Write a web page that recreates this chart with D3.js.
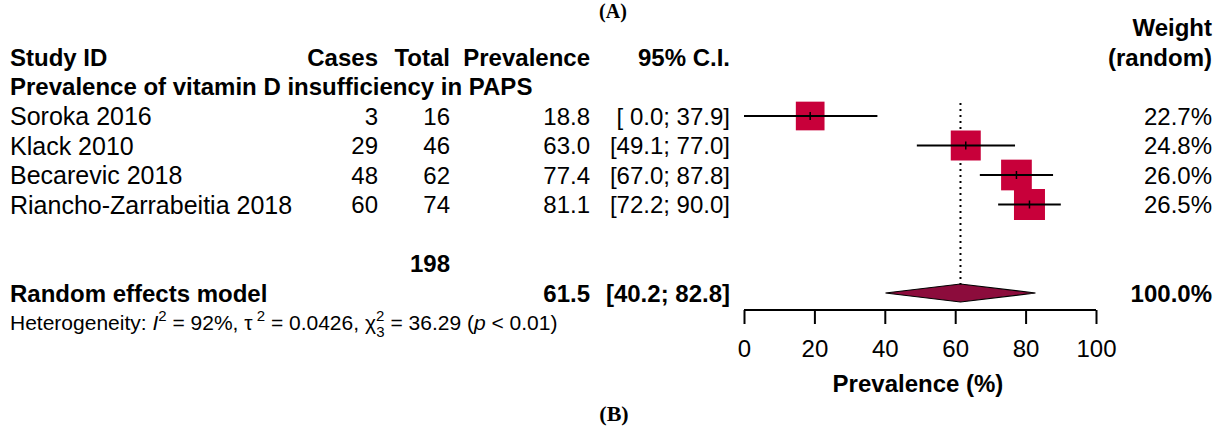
<!DOCTYPE html>
<html>
<head>
  <style>
    body { margin: 0; background: white; }
    svg { display: block; font-family: "Liberation Sans", Arial, sans-serif; }
    text { white-space: pre; }
  </style>
</head>
<body>
  <script src="https://d3js.org/d3.v7.min.js"></script>
  <script>
    const studies = ['Soroka 2016', 'Klack 2010', 'Becarevic 2018', 'Riancho-Zarrabeitia 2018'];
    const cases = [3, 29, 48, 60];
    const totals = [16, 46, 62, 74];
    const prevalence = [18.8, 63.0, 77.4, 81.1];
    const ciLower = [0.0, 49.1, 67.0, 72.2];
    const ciUpper = [37.9, 77.0, 87.8, 90.0];
    const weights = [22.7, 24.8, 26.0, 26.5];

    const pooled = { label: 'Random effects model', total: 198, est: 61.5, lo: 40.2, hi: 82.8, weight: 100.0 };
    const xTicks = [0, 20, 40, 60, 80, 100];

    const width = 1222;
    const height = 429;

    const svg = d3.select('body')
      .append('svg')
      .attr('width', width)
      .attr('height', height);

    // row scale: row 0 = "Weight", row 1 = header, 2 = subgroup, 3..6 = studies
    const yRow = d3.scaleLinear().domain([0, 1]).range([27.5, 57]);
    const x = d3.scaleLinear().domain([0, 100]).range([744, 1096]);
    const boxSize = d3.scaleSqrt().domain([0, 26.5]).range([0, 31]);

    const col = { study: 10, cases: 378, total: 450, prev: 590, ci: 730, weight: 1212 };
    const f1 = d3.format('.1f');
    const fci = d3.format(' >4.1f');
    const ciText = (lo, hi) => `[${fci(lo)}; ${fci(hi)}]`;

    function txt(xp, row, s, opts = {}) {
      return svg.append('text')
        .attr('x', xp)
        .attr('y', yRow(row))
        .attr('dy', '0.36em')
        .attr('text-anchor', opts.anchor || 'end')
        .attr('font-size', opts.size || 24)
        .attr('font-weight', opts.bold ? 'bold' : 'normal')
        .text(s);
    }

    // panel letters
    svg.append('text').attr('x', 613).attr('y', 18).attr('text-anchor', 'middle')
      .attr('font-family', '"Liberation Serif", "Times New Roman", serif')
      .attr('font-weight', 'bold').attr('font-size', 20).text('(A)');
    svg.append('text').attr('x', 614).attr('y', 421).attr('text-anchor', 'middle')
      .attr('font-family', '"Liberation Serif", "Times New Roman", serif')
      .attr('font-weight', 'bold').attr('font-size', 22).text('(B)');

    // headers
    txt(col.weight, 0, 'Weight', { bold: true });
    txt(col.study, 1, 'Study ID', { bold: true, anchor: 'start' });
    txt(col.cases, 1, 'Cases', { bold: true });
    txt(col.total, 1, 'Total', { bold: true });
    txt(col.prev, 1, 'Prevalence', { bold: true });
    txt(col.ci, 1, '95% C.I.', { bold: true });
    txt(col.weight, 1, '(random)', { bold: true });
    txt(col.study, 2, 'Prevalence of vitamin D insufficiency in PAPS', { bold: true, anchor: 'start' });

    // study rows
    studies.forEach((s, i) => {
      const r = 3 + i;
      txt(col.study, r, s, { anchor: 'start', size: 25 });
      txt(col.cases, r, cases[i]);
      txt(col.total, r, totals[i]);
      txt(col.prev, r, f1(prevalence[i]));
      txt(col.ci, r, ciText(ciLower[i], ciUpper[i]));
      txt(col.weight, r, f1(weights[i]) + '%');
    });

    // pooled rows
    txt(col.total, 8, pooled.total, { bold: true });
    txt(col.study, 9, pooled.label, { bold: true, anchor: 'start' });
    txt(col.prev, 9, f1(pooled.est), { bold: true });
    txt(col.ci, 9, ciText(pooled.lo, pooled.hi), { bold: true });
    txt(col.weight, 9, f1(pooled.weight) + '%', { bold: true });

    // heterogeneity
    const het = svg.append('text')
      .attr('x', col.study)
      .attr('y', yRow(10))
      .attr('dy', '0.36em')
      .attr('font-size', 21);
    het.append('tspan').text('Heterogeneity: ');
    het.append('tspan').attr('font-style', 'italic').text('I');
    het.append('tspan').attr('font-size', 15).attr('dy', -9).text('2');
    het.append('tspan').attr('dy', 9).text(' = 92%, \u03c4');
    het.append('tspan').attr('font-size', 15).attr('dy', -9).text(' 2');
    het.append('tspan').attr('dy', 9).text(' = 0.0426, \u03c7');
    het.append('tspan').attr('font-size', 15).attr('dy', -9).text('2');
    het.append('tspan').attr('font-size', 15).attr('dx', -8).attr('dy', 16).text('3');
    het.append('tspan').attr('dy', -7).text(' = 36.29 (');
    het.append('tspan').attr('font-style', 'italic').text('p');
    het.append('tspan').text(' < 0.01)');

    // reference line at pooled estimate
    const diamondH = 18;
    svg.append('line')
      .attr('x1', x(pooled.est)).attr('x2', x(pooled.est))
      .attr('y1', yRow(3) - 13).attr('y2', yRow(9) - diamondH / 2)
      .attr('stroke', 'black').attr('stroke-width', 2)
      .attr('stroke-dasharray', '2,4');

    // study boxes + CIs
    const g = svg.append('g');
    studies.forEach((s, i) => {
      const cy = yRow(3 + i);
      const sz = boxSize(weights[i]);
      g.append('rect')
        .attr('x', x(prevalence[i]) - sz / 2)
        .attr('y', cy - sz / 2)
        .attr('width', sz).attr('height', sz)
        .attr('fill', '#c8003a');
      g.append('line')
        .attr('x1', x(ciLower[i])).attr('x2', x(ciUpper[i]))
        .attr('y1', cy).attr('y2', cy)
        .attr('stroke', 'black').attr('stroke-width', 1.8);
      g.append('line')
        .attr('x1', x(prevalence[i])).attr('x2', x(prevalence[i]))
        .attr('y1', cy - 4).attr('y2', cy + 4)
        .attr('stroke', 'black').attr('stroke-width', 1.5);
    });

    // pooled diamond
    const dy = yRow(9);
    svg.append('path')
      .attr('d', `M${x(pooled.lo)},${dy} L${x(pooled.est)},${dy - diamondH / 2} L${x(pooled.hi)},${dy} L${x(pooled.est)},${dy + diamondH / 2} Z`)
      .attr('fill', '#8c0c3c')
      .attr('stroke', 'black').attr('stroke-width', 1.2);

    // axis
    const axis = svg.append('g')
      .attr('transform', 'translate(0,310)')
      .call(d3.axisBottom(x).tickValues(xTicks).tickSize(14).tickPadding(16).tickFormat(d3.format('d')));
    axis.select('.domain').attr('stroke-width', 2).attr('d', `M${x(0)},0H${x(100)}`);
    axis.selectAll('.tick line').attr('stroke-width', 2);
    axis.selectAll('.tick text').attr('font-size', 24).attr('font-family', '"Liberation Sans", Arial, sans-serif');

    svg.append('text')
      .attr('x', x(50) - 2)
      .attr('y', 383)
      .attr('dy', '0.36em')
      .attr('text-anchor', 'middle')
      .attr('font-size', 24)
      .attr('font-weight', 'bold')
      .text('Prevalence (%)');
  </script>
</body>
</html>
